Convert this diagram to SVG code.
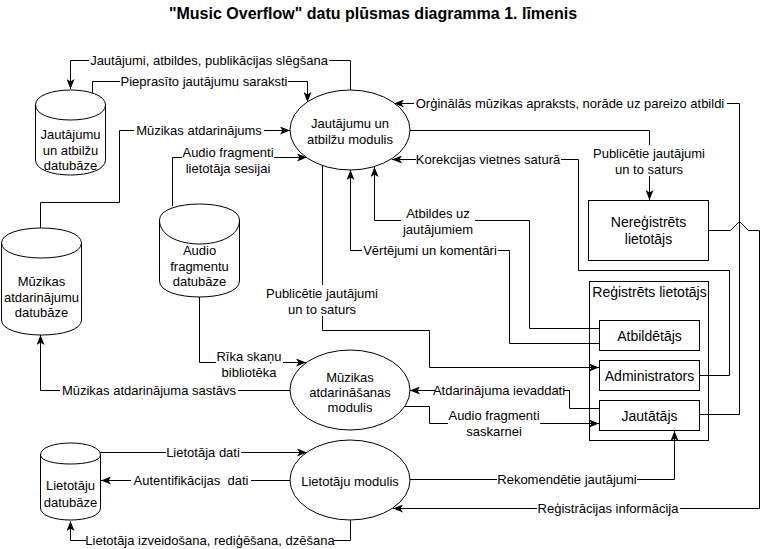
<svg xmlns="http://www.w3.org/2000/svg" width="768" height="549" viewBox="0 0 768 549">
<style>
.t{font-family:"Liberation Sans",Arial,sans-serif;font-size:13px;fill:#000;text-anchor:middle}
.tb{font-family:"Liberation Sans",Arial,sans-serif;font-size:14px;fill:#000;text-anchor:middle}
.ttl{font-family:"Liberation Sans",Arial,sans-serif;font-size:16px;font-weight:bold;fill:#000;text-anchor:middle}
.s{fill:#fff;stroke:#000;stroke-width:1}
.f{fill:none;stroke:#000;stroke-width:1}
.c{fill:none;stroke:#000;stroke-width:1;marker-end:url(#arr)}
.bg{fill:#fff}
</style>
<defs>
<marker id="arr" viewBox="0 0 10 8" refX="10" refY="4" markerWidth="10" markerHeight="8" markerUnits="userSpaceOnUse" orient="auto">
<path d="M0,0 L10,4 L0,8 L2.5,4 Z" fill="#000"/>
</marker>
</defs>
<rect width="768" height="549" fill="#fff"/>
<text class="ttl" x="373" y="19">"Music Overflow" datu plūsmas diagramma 1. līmenis</text>

<g id="connectors">
<g id="c1"><path class="c" d="M350.5,90 V60.5 H70.5 V89"/><rect class="bg" x="89" y="52" width="240" height="16"/><text class="t" x="209" y="64.5">Jautājumi, atbildes, publikācijas slēgšana</text></g>
<g id="c2"><path class="c" d="M92.5,94 V81.5 H307.5 V102"/><rect class="bg" x="120" y="73" width="168" height="16"/><text class="t" x="204" y="85.5">Pieprasīto jautājumu saraksti</text></g>
<g id="c3"><path class="c" d="M40.5,228 V202.5 H119.5 V130.5 H290"/><rect class="bg" x="134" y="122" width="130" height="16"/><text class="t" x="199" y="134.5">Mūzikas atdarinājums</text></g>
<g id="c4"><path class="c" d="M172.5,206 V157.5 H307"/><rect class="bg" x="182" y="144" width="92" height="31"/><text class="t" x="228" y="157">Audio fragmenti</text><text class="t" x="228" y="172.5">lietotāja sesijai</text></g>
<g id="c5"><path class="c" d="M290,390.5 H40.5 V335"/><rect class="bg" x="60" y="382" width="178" height="16"/><text class="t" x="149" y="394.5">Mūzikas atdarinājuma sastāvs</text></g>
<g id="c6"><path class="c" d="M199.5,297 V362.5 H306"/><rect class="bg" x="216" y="348" width="67" height="31"/><text class="t" x="249" y="361">Rīka skaņu</text><text class="t" x="249" y="376.5">bibliotēka</text></g>
<g id="c7"><path class="c" d="M599,408.5 H569.5 V390.5 H410"/><rect class="bg" x="435" y="382" width="129" height="16"/><text class="t" x="499" y="394.5">Atdarinājuma ievaddati</text></g>
<g id="c8"><path class="c" d="M405,406.5 H429.5 V423.5 H599"/><rect class="bg" x="448" y="407" width="92" height="31"/><text class="t" x="494" y="420">Audio fragmenti</text><text class="t" x="494" y="435.5">saskarnei</text></g>
<g id="c9"><path class="c" d="M322.5,165 V330.5 H429.5 V367.5 H599"/><rect class="bg" x="266" y="285" width="112" height="31"/><text class="t" x="322" y="298">Publicētie jautājumi</text><text class="t" x="322" y="313.5">un to saturs</text></g>
<g id="c10"><path class="c" d="M599,343.5 H509.5 V250.5 H350.5 V170"/><rect class="bg" x="362" y="242" width="136" height="16"/><text class="t" x="430" y="254.5">Vērtējumi un komentāri</text></g>
<g id="c11"><path class="c" d="M599,328.5 H529.5 V220.5 H374.5 V167"/><rect class="bg" x="401" y="205" width="74" height="31"/><text class="t" x="438" y="218">Atbildes uz</text><text class="t" x="438" y="233.5">jautājumiem</text></g>
<g id="c12"><path class="c" d="M699,375.5 H729.5 V270.5 H578.5 V159.5 H392"/><rect class="bg" x="416" y="151" width="145" height="16"/><text class="t" x="488" y="163.5">Korekcijas vietnes saturā</text></g>
<g id="c13"><path class="c" d="M699,414.5 H739.5 V103.5 H394"/><rect class="bg" x="414" y="95" width="313" height="16"/><text class="t" x="570" y="107.5">Orģinālās mūzikas apraksts, norāde uz pareizo atbildi</text></g>
<g id="c14"><path class="c" d="M708,230.5 H730.5 L739.5,221.5 L748.5,230.5 H759.5 V508.5 H393"/><rect class="bg" x="537" y="500" width="143" height="16"/><text class="t" x="608" y="512.5">Reģistrācijas informācija</text></g>
<g id="c15"><path class="c" d="M100,452.5 H307"/><rect class="bg" x="166" y="444" width="75" height="16"/><text class="t" x="203" y="456.5">Lietotāja dati</text></g>
<g id="c16"><path class="c" d="M290,480.5 H101"/><rect class="bg" x="131" y="472" width="120" height="16"/><text class="t" x="191" y="484.5" xml:space="preserve">Autentifikācijas  dati</text></g>
<g id="c17"><path class="c" d="M350.5,520 V540.5 H70.5 V521"/><rect class="bg" x="86" y="532" width="248" height="16"/><text class="t" x="210" y="544.5">Lietotāja izveidošana, rediģēšana, dzēšana</text></g>
<g id="c18"><path class="c" d="M410,479.5 H674.5 V431"/><rect class="bg" x="497" y="471" width="140" height="16"/><text class="t" x="567" y="483.5">Rekomendētie jautājumi</text></g>
<g id="c19"><path class="c" d="M410,130.5 H649.5 V200"/><rect class="bg" x="592" y="145" width="114" height="31"/><text class="t" x="649" y="158">Publicētie jautājumi</text><text class="t" x="649" y="173.5">un to saturs</text></g>
</g>

<g id="n_qa"><ellipse class="s" cx="350" cy="130" rx="60" ry="40"/><text class="t" x="350" y="127.5">Jautājumu un</text><text class="t" x="350" y="144">atbilžu modulis</text></g>
<g id="n_music"><ellipse class="s" cx="350" cy="390" rx="60" ry="40"/><text class="t" x="350" y="381.5">Mūzikas</text><text class="t" x="350" y="396.5">atdarināšanas</text><text class="t" x="350" y="411.5">modulis</text></g>
<g id="n_users"><ellipse class="s" cx="350" cy="480" rx="60" ry="40"/><text class="t" x="350" y="486">Lietotāju modulis</text></g>

<g id="db_qa"><path class="s" d="M35.5,105 C35.5,85 105.5,85 105.5,105 L105.5,160 C105.5,180 35.5,180 35.5,160 Z"/><path class="f" d="M35.5,105 C35.5,125 105.5,125 105.5,105"/><text class="t" x="70.5" y="139">Jautājumu</text><text class="t" x="70.5" y="154.5">un atbilžu</text><text class="t" x="70.5" y="170">datubāze</text></g>
<g id="db_music"><path class="s" d="M1.5,243 C1.5,223 81.5,223 81.5,243 L81.5,320 C81.5,340 1.5,340 1.5,320 Z"/><path class="f" d="M1.5,243 C1.5,263 81.5,263 81.5,243"/><text class="t" x="41.5" y="285.5">Mūzikas</text><text class="t" x="41.5" y="301.5">atdarinājumu</text><text class="t" x="41.5" y="317">datubāze</text></g>
<g id="db_audio"><path class="s" d="M159.5,220 C159.5,198.7 239.5,198.7 239.5,220 L239.5,281 C239.5,302.3 159.5,302.3 159.5,281 Z"/><path class="f" d="M159.5,220 C159.5,252 239.5,252 239.5,220"/><text class="t" x="199.5" y="254.5">Audio</text><text class="t" x="199.5" y="270.5">fragmentu</text><text class="t" x="199.5" y="286">datubāze</text></g>
<g id="db_users"><path class="s" d="M40.5,455 C40.5,439 100.5,439 100.5,455 L100.5,508 C100.5,524 40.5,524 40.5,508 Z"/><path class="f" d="M40.5,455 C40.5,467 100.5,467 100.5,455"/><text class="t" x="70.5" y="489.5">Lietotāju</text><text class="t" x="70.5" y="506.5">datubāze</text></g>

<g id="n_unreg"><rect class="s" x="588.5" y="200.5" width="120" height="60"/><text class="tb" x="648.5" y="227">Nereģistrēts</text><text class="tb" x="648.5" y="244">lietotājs</text></g>
<g id="n_reg"><rect class="f" x="589.5" y="281.5" width="119" height="159"/><text class="tb" x="649.5" y="297">Reģistrēts lietotājs</text></g>
<g id="n_answerer"><rect class="s" x="599.5" y="320.5" width="100" height="30"/><text class="tb" x="649.5" y="340.5">Atbildētājs</text></g>
<g id="n_admin"><rect class="s" x="599.5" y="360.5" width="100" height="30"/><text class="tb" x="649.5" y="380.5">Administrators</text></g>
<g id="n_asker"><rect class="s" x="599.5" y="400.5" width="100" height="30"/><text class="tb" x="649.5" y="420.5">Jautātājs</text></g>
</svg>
